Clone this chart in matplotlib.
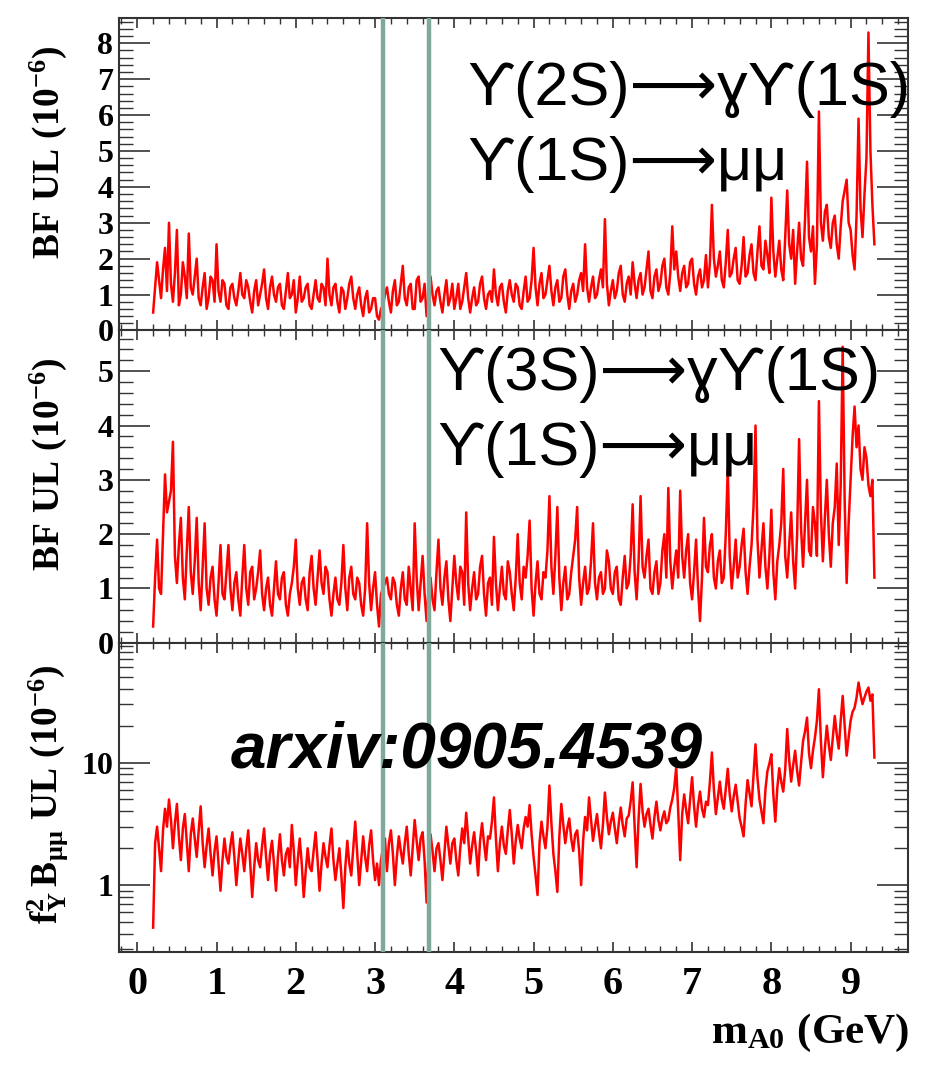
import numpy as np
import matplotlib
matplotlib.use("Agg")
import matplotlib.pyplot as plt
from matplotlib.ticker import MultipleLocator, LogLocator, FixedLocator, FuncFormatter, NullFormatter

plt.rcParams["mathtext.fontset"] = "custom"
plt.rcParams["mathtext.rm"] = "Liberation Serif:bold"
plt.rcParams["mathtext.it"] = "Liberation Serif:bold"
plt.rcParams["mathtext.bf"] = "Liberation Serif:bold"

# Scan of the A0 mass hypothesis (GeV), 0.025 GeV steps from 0.200 to 9.300
M_FIRST, M_LAST = 0.20, 9.30

# 90% CL upper limits on BF(Y(2S) -> gamma A0) x BF(A0 -> mu mu), units 1e-6
ul_2s = [
    0.5, 1.2, 1.9, 1.4, 0.9, 1.7, 2.3, 1.1, 3.0, 1.3, 0.8, 1.6, 2.8, 0.7, 1.0, 1.9, 1.5, 0.9, 2.7, 1.2,
    1.0, 1.5, 2.0, 0.9, 0.7, 1.2, 1.6, 0.6, 0.9, 1.5, 1.4, 0.8, 2.4, 1.1, 0.8, 1.4, 1.3, 0.7, 0.6, 1.2,
    1.3, 0.9, 0.7, 1.1, 1.6, 1.0, 0.9, 1.4, 1.2, 0.8, 0.5, 1.1, 1.4, 0.7, 1.0, 1.3, 1.7, 0.9, 0.6, 1.2,
    1.5, 1.0, 0.8, 1.2, 1.3, 0.7, 0.6, 1.1, 1.6, 0.9, 1.0, 1.4, 0.5, 0.9, 1.5, 0.8, 0.9, 1.2, 1.3, 0.7,
    0.6, 1.0, 1.4, 0.9, 0.8, 1.3, 1.2, 0.7, 2.0, 1.0, 0.7, 1.2, 1.3, 0.8, 0.5, 1.2, 1.1, 0.6, 0.9, 1.3,
    1.5, 0.9, 0.6, 1.0, 1.2, 0.7, 0.4, 0.9, 1.1, 0.5, 0.6, 0.9, 0.9, 0.4, 0.3, 0.6, 0.7, 1.0, 1.2, 0.8,
    0.5, 1.1, 1.4, 0.7, 0.8, 1.3, 1.8, 0.9, 0.7, 1.2, 1.3, 0.6, 0.6, 1.4, 1.5, 0.8, 0.9, 1.3, 0.4, 0.9,
    1.5, 1.0, 0.7, 1.1, 1.2, 0.8, 0.5, 1.0, 1.4, 0.7, 0.9, 1.3, 0.6, 0.9, 1.3, 0.6, 0.8, 1.2, 1.6, 0.9,
    0.5, 0.9, 1.2, 0.7, 0.8, 1.3, 1.5, 0.9, 0.6, 1.0, 1.1, 0.8, 1.7, 1.0, 0.7, 1.2, 1.3, 0.8, 0.5, 1.1,
    1.4, 1.0, 0.8, 1.3, 1.2, 0.7, 0.6, 1.1, 1.5, 0.8, 0.9, 1.4, 2.3, 1.2, 0.7, 1.3, 1.6, 0.9, 1.0, 1.4,
    1.8, 1.1, 0.7, 1.2, 1.4, 0.8, 0.9, 1.5, 1.7, 1.0, 0.6, 1.1, 1.3, 0.8, 1.0, 1.4, 1.6, 1.1, 2.4, 1.2,
    0.8, 1.2, 1.5, 0.9, 1.0, 1.4, 1.7, 1.2, 3.1, 1.3, 0.7, 1.1, 1.4, 0.9, 1.1, 1.6, 1.8, 1.0, 0.8, 1.3,
    1.5, 1.0, 1.9, 1.3, 0.9, 1.4, 1.6, 1.0, 1.2, 1.7, 2.2, 1.1, 0.9, 1.5, 1.7, 1.1, 1.3, 1.8, 2.0, 1.2,
    1.0, 1.6, 2.9, 1.7, 2.2, 1.5, 1.1, 1.6, 1.8, 1.2, 1.3, 1.9, 2.0, 1.3, 1.0, 1.5, 1.7, 1.2, 1.4, 2.1,
    1.2, 1.9, 3.5, 2.0, 1.5, 1.8, 2.2, 1.4, 1.2, 1.9, 2.8, 1.5, 1.6, 2.0, 2.3, 1.4, 1.3, 1.8, 2.6, 1.5,
    1.6, 2.1, 2.4, 1.6, 1.4, 2.2, 2.9, 1.8, 1.7, 2.5, 2.1, 1.6, 3.7, 2.2, 1.5, 2.0, 2.5, 1.7, 1.4, 2.6,
    3.9, 2.4, 2.0, 2.8, 1.3, 2.2, 3.0, 2.0, 1.8, 3.1, 4.7, 2.6, 2.2, 2.9, 1.3, 2.4, 6.1, 3.0, 2.5, 3.3,
    3.5, 2.6, 2.3, 3.0, 3.2, 2.4, 2.0, 2.9, 3.6, 3.9, 4.2, 3.0, 2.8, 2.1, 1.7, 3.2, 5.9, 3.4, 2.6, 3.8,
    4.8, 8.3, 5.0, 3.5, 2.4,
]

# 90% CL upper limits for Y(3S) -> gamma A0, A0 -> mu mu, units 1e-6
ul_3s = [
    0.3, 1.2, 1.9, 1.0, 0.9, 2.0, 3.1, 2.4, 2.6, 2.8, 3.7, 1.6, 1.1, 1.8, 2.3, 1.2, 0.8, 1.7, 2.5, 1.3,
    0.9, 1.5, 2.3, 1.1, 0.6, 1.4, 2.2, 1.0, 0.7, 1.2, 1.4, 0.8, 0.5, 1.1, 1.8, 0.9, 0.8, 1.3, 1.8, 1.0,
    0.6, 1.1, 1.3, 0.8, 0.5, 1.2, 1.8, 1.0, 0.7, 1.3, 1.4, 0.8, 1.0, 1.3, 1.7, 0.9, 0.6, 1.0, 1.2, 0.7,
    0.5, 1.0, 1.5, 0.9, 0.8, 1.2, 1.3, 0.7, 0.5, 0.9, 1.1, 1.4, 1.9, 1.0, 0.7, 1.1, 1.2, 0.8, 0.6, 1.3,
    1.6, 1.0, 0.7, 1.2, 1.7, 1.1, 0.9, 1.4, 1.3, 0.8, 0.5, 0.9, 1.2, 0.8, 0.7, 1.1, 1.8, 1.0, 0.6, 1.2,
    1.4, 0.9, 0.8, 1.2, 1.1, 0.7, 0.5, 1.0, 2.2, 1.1, 0.6, 1.0, 1.3, 0.7, 0.3, 0.9, 1.0, 1.1, 1.2, 0.9,
    0.8, 1.2, 1.1, 0.7, 0.5, 1.0, 1.3, 0.8, 0.7, 1.4, 1.0, 0.6, 2.2, 1.2, 0.6, 1.1, 1.6, 0.9, 0.4, 1.0,
    1.2, 0.8, 0.6, 1.3, 1.9, 1.0, 0.7, 1.2, 1.5, 0.8, 0.4, 1.0, 1.6, 1.1, 0.8, 1.4, 1.3, 0.7, 2.4, 1.1,
    0.6, 1.0, 1.3, 0.8, 0.9, 1.4, 1.6, 0.9, 0.5, 1.1, 1.2, 0.7, 1.95, 1.1, 0.6, 1.0, 1.4, 0.9, 0.8, 1.5,
    1.3, 0.9, 0.6, 1.2, 2.0, 1.1, 0.8, 1.4, 1.2, 1.6, 2.25, 1.0, 0.5, 1.1, 1.5, 0.9, 0.8, 1.3, 1.2, 1.7,
    2.7, 1.4, 0.9, 1.6, 2.5, 1.2, 0.6, 1.1, 1.4, 0.8, 0.9, 1.3, 1.6, 1.9, 2.5, 1.2, 0.7, 1.1, 1.4, 0.9,
    1.0, 1.5, 2.2, 1.1, 0.8, 1.2, 1.3, 0.9, 1.0, 1.7, 1.5, 1.0, 0.9, 1.3, 1.4, 0.8, 0.7, 1.2, 1.6, 1.0,
    1.1, 1.6, 2.55, 1.3, 0.8, 1.5, 2.7, 1.4, 1.2, 1.6, 1.9, 1.0, 0.9, 1.3, 1.5, 0.9, 1.1, 1.7, 2.0, 1.2,
    2.85, 1.5, 1.0, 1.4, 1.7, 1.2, 2.8, 1.6, 1.2, 1.7, 2.0, 1.1, 0.8, 1.3, 1.9, 1.0, 0.4, 1.2, 2.3, 1.4,
    1.3, 1.8, 2.0, 1.2, 1.0, 1.5, 1.7, 1.1, 1.2, 2.0, 3.2, 1.6, 1.0, 1.4, 1.9, 1.2, 1.4, 1.8, 2.1, 1.3,
    0.9, 1.4, 1.8, 2.5, 4.0, 1.9, 1.2, 1.7, 2.2, 1.4, 1.0, 1.6, 2.45, 1.3, 0.8, 1.5, 1.8, 2.2, 3.2, 1.6,
    1.2, 1.8, 2.4, 1.5, 1.0, 2.0, 3.75, 2.1, 1.4, 2.2, 3.0, 1.7, 1.6, 2.5, 2.2, 1.6, 4.45, 2.4, 1.5, 2.3,
    3.0, 2.0, 1.4, 2.2, 2.5, 3.3, 1.8, 2.9, 5.45, 2.6, 1.1, 2.2, 3.0, 3.8, 4.35, 3.6, 4.0, 3.2, 3.0, 3.6,
    3.4, 2.9, 2.7, 3.0, 1.2,
]

# Combined limit on f_Y^2 x BF(A0 -> mu mu), units 1e-6
ul_f2b = [
    0.45, 2.2, 3.0, 2.0, 1.3, 2.8, 4.2, 3.0, 5.0, 3.4, 2.0, 3.2, 4.6, 2.5, 1.6, 2.9, 3.8, 2.2, 1.3, 2.6,
    3.5, 2.4, 1.7, 2.8, 4.4, 2.2, 1.4, 2.1, 2.9, 1.8, 1.2, 1.9, 2.5, 1.5, 0.9, 1.6, 2.4, 1.7, 1.5, 2.1,
    2.7, 1.7, 1.0, 1.6, 2.4, 1.8, 1.3, 2.0, 2.8, 1.5, 0.8, 1.4, 2.2, 1.6, 1.4, 2.1, 2.9, 1.7, 1.1, 1.8,
    2.3, 1.5, 0.9, 1.7, 2.6, 1.6, 1.2, 1.8, 2.0, 1.4, 3.1, 1.9, 1.0, 1.6, 2.4, 1.5, 0.8, 1.3, 2.0, 1.4,
    1.3, 1.9, 2.7, 1.6, 0.9, 1.5, 2.2, 1.7, 1.4, 2.1, 2.9, 1.6, 1.1, 1.5, 2.0, 1.2, 0.65, 1.4, 2.3, 1.5,
    1.2, 2.0, 3.3, 1.8, 1.0, 1.6, 2.5, 1.7, 1.3, 2.1, 2.8, 1.6, 1.1, 1.5, 1.0, 1.6, 2.0, 2.4, 1.3, 2.2,
    2.8, 1.8, 1.0, 1.7, 2.5, 1.9, 1.5, 2.2, 3.0, 1.8, 1.2, 2.0, 3.4, 2.3, 1.6, 2.4, 2.7, 1.6, 0.72, 1.8,
    2.6, 1.9, 1.3, 2.0, 2.2, 1.6, 1.1, 1.8, 3.0, 2.1, 1.5, 2.2, 2.4, 1.6, 1.2, 2.0, 2.9, 2.2, 3.9, 2.4,
    1.5, 2.1, 2.7, 1.9, 1.2, 2.3, 3.2, 2.2, 1.6, 2.5, 2.4, 3.3, 5.2, 2.4, 1.3, 2.2, 3.0, 2.1, 1.8, 2.8,
    4.1, 2.6, 1.5, 2.3, 3.1, 2.4, 2.0, 2.9, 3.6, 3.0, 4.5, 2.6, 1.7, 1.2, 0.83, 2.2, 3.3, 2.5, 2.0, 3.0,
    6.5, 3.2, 1.8, 1.3, 0.88, 2.5, 4.6, 3.1, 2.2, 2.9, 3.5, 2.4, 1.9, 2.6, 2.8, 1.9, 1.0, 2.3, 3.6, 2.8,
    5.2, 3.4, 2.3, 3.0, 3.8, 2.7, 2.0, 3.1, 5.7, 3.6, 2.6, 3.3, 3.9, 2.9, 2.2, 3.2, 4.3, 3.1, 2.5, 3.5,
    3.7, 4.8, 6.9, 3.0, 1.4, 3.5, 6.7, 4.0, 3.0, 3.8, 4.2, 3.1, 2.4, 3.6, 4.8, 3.4, 2.8, 3.5, 4.0, 3.2,
    3.4, 4.3, 5.0, 6.2, 9.2, 4.0, 1.6, 3.8, 5.5, 4.1, 3.2, 5.0, 7.6, 4.4, 3.0, 4.5, 5.8, 4.2, 3.6, 4.8,
    4.5, 7.0, 12.1, 6.0, 3.8, 5.2, 7.0, 5.0, 4.2, 6.1, 8.9, 5.5, 4.0, 5.3, 6.6, 4.8, 3.5, 3.0, 2.5, 4.6,
    7.2, 5.6, 4.4, 8.0, 14.1, 7.5, 5.0, 4.0, 3.2, 6.0, 8.5, 9.8, 11.7, 5.5, 3.3, 6.2, 9.0, 7.0, 5.8, 8.8,
    18.8, 10.5, 7.0, 9.5, 12.5, 8.6, 6.5, 10.0, 15.0, 18.0, 23.3, 12.0, 9.0, 12.5, 16.0, 22.0, 39.7, 15.0, 7.6, 13.0,
    20.0, 14.0, 10.5, 16.0, 24.0, 17.0, 13.0, 22.0, 35.0, 20.0, 11.4, 16.0, 22.0, 26.0, 28.0, 34.0, 45.0, 36.0, 30.0, 34.0,
    38.0, 41.0, 32.0, 36.0, 11.0,
]

# Charmonium masses vetoed in the scan (GeV)
JPSI_MASS = 3.097
PSI2S_MASS = 3.686

x_tick_labels = ["0", "1", "2", "3", "4", "5", "6", "7", "8", "9"]

RED = "#ff0000"
VETO = "#80a89b"
FRAME = "#333333"
SERIF = "Liberation Serif"
SANS = ["Liberation Sans", "DejaVu Sans"]

fig = plt.figure(figsize=(9.30, 10.66), dpi=100)
L, W = 0.128, 0.848
ax1 = fig.add_axes([L, 0.690, W, 0.293])
ax2 = fig.add_axes([L, 0.397, W, 0.293])
ax3 = fig.add_axes([L, 0.107, W, 0.290])
axes = [ax1, ax2, ax3]

for ax, vals in zip(axes, [ul_2s, ul_3s, ul_f2b]):
    mass = np.linspace(M_FIRST, M_LAST, len(vals))
    ax.plot(mass, vals, color=RED, lw=1.8, zorder=2)
    ax.axvline(JPSI_MASS, color=VETO, lw=3.2, zorder=3)
    ax.axvline(PSI2S_MASS, color=VETO, lw=3.2, zorder=3)
    ax.set_xlim(-0.23, 9.72)
    ax.xaxis.set_major_locator(MultipleLocator(1))
    ax.xaxis.set_minor_locator(MultipleLocator(0.2))
    for s in ax.spines.values():
        s.set_color(FRAME)
        s.set_linewidth(1.5)
    ax.tick_params(axis="x", which="major", direction="in", length=7, width=1.2,
                   color=FRAME, top=True, bottom=True)
    ax.tick_params(axis="x", which="minor", direction="in", length=4, width=1.0,
                   color=FRAME, top=True, bottom=True)
    ax.tick_params(axis="y", which="major", direction="in", length=22, width=1.2,
                   color=FRAME, left=True, right=True, pad=4)
    ax.tick_params(axis="y", which="minor", direction="in", length=10, width=1.0,
                   color=FRAME, left=True, right=True)

ax1.set_ylim(0, 8.7)
ax1.yaxis.set_major_locator(MultipleLocator(1))
ax1.yaxis.set_minor_locator(MultipleLocator(0.2))
ax2.set_ylim(0, 5.75)
ax2.yaxis.set_major_locator(MultipleLocator(1))
ax2.yaxis.set_minor_locator(MultipleLocator(0.2))
ax3.set_yscale("log")
ax3.set_ylim(0.285, 95)
ax3.yaxis.set_major_locator(FixedLocator([1, 10]))
ax3.yaxis.set_minor_locator(LogLocator(base=10, subs=np.arange(2, 10) * 1.0, numticks=20))
ax3.yaxis.set_minor_formatter(NullFormatter())
ax3.yaxis.set_major_formatter(FuncFormatter(lambda v, p: "%g" % v))

for ax in (ax1, ax2):
    ax.tick_params(axis="x", labelbottom=False)
for ax in axes:
    for lab in ax.get_yticklabels():
        lab.set_fontfamily(SERIF)
        lab.set_fontweight("bold")
        lab.set_fontsize(23)

ax3.set_xticks(range(len(x_tick_labels)))
ax3.set_xticklabels(x_tick_labels, fontfamily=SERIF, fontweight="bold", fontsize=29)
ax3.tick_params(axis="x", which="major", pad=10)

# Axis titles
ylab_kw = dict(rotation=90, ha="center", va="center", fontsize=27)
ax1.text(-0.09, 0.57, r"$\mathrm{BF\ UL\ (10^{-6})}$", transform=ax1.transAxes, **ylab_kw)
ax2.text(-0.09, 0.57, r"$\mathrm{BF\ UL\ (10^{-6})}$", transform=ax2.transAxes, **ylab_kw)
ax3.text(-0.09, 0.51, r"$\mathrm{f_{\Upsilon}^{2}\,B_{\mu\mu}\ UL\ (10^{-6})}$",
         transform=ax3.transAxes, **ylab_kw)
fig.text(0.978, 0.031, r"$\mathrm{m_{A0}\ (GeV)}$", ha="right", va="center", fontsize=31)

# Decay-channel annotations
ann_kw = dict(fontsize=44, family=SANS, va="baseline", ha="left", color="black")
ax1.text(0.442, 0.721, "ϒ(2S)⟶ɣϒ(1S)", transform=ax1.transAxes, **ann_kw)
ax1.text(0.442, 0.481, "ϒ(1S)⟶μμ", transform=ax1.transAxes, **ann_kw)
ax2.text(0.403, 0.808, "ϒ(3S)⟶ɣϒ(1S)", transform=ax2.transAxes, **ann_kw)
ax2.text(0.403, 0.569, "ϒ(1S)⟶μμ", transform=ax2.transAxes, **ann_kw)
ax3.text(0.141, 0.597, "arxiv:0905.4539", transform=ax3.transAxes, fontsize=46,
         family=SANS, fontweight="bold", fontstyle="italic", va="baseline", ha="left")

fig.savefig("out.png", dpi=100, facecolor="white")
